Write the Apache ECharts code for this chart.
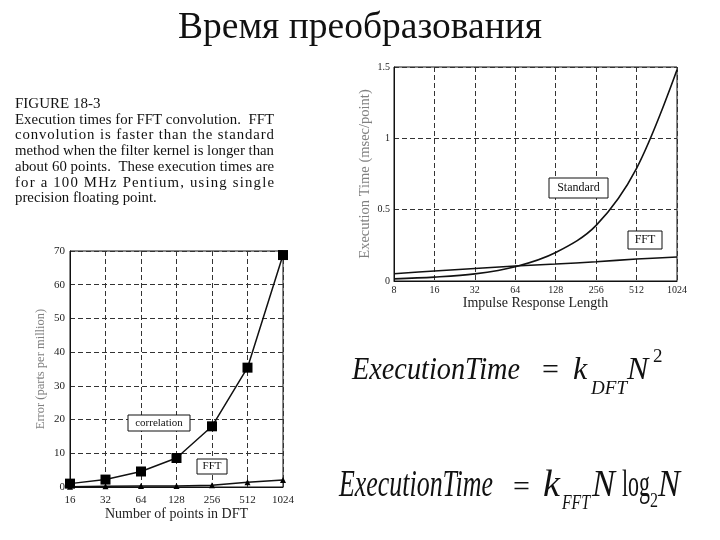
<!DOCTYPE html>
<html><head><meta charset="utf-8">
<script src="https://cdn.jsdelivr.net/npm/echarts@6/dist/echarts.min.js"></script>
<style>html,body{margin:0;padding:0;background:#fff}#c{width:720px;height:540px}</style>
</head><body><div id="c"></div>
<script>
// ---- data ----
const titleText = 'Время преобразования';
const captionLines = [
  'FIGURE 18-3',
  'Execution times for FFT convolution.  FFT',
  'convolution is faster than the standard',
  'method when the filter kernel is longer than',
  'about 60 points.  These execution times are',
  'for a 100 MHz Pentium, using single',
  'precision floating point.'
];
const kernelLengths = ['8','16','32','64','128','256','512','1024'];
const standardTime = [0.015, 0.027, 0.05, 0.1, 0.2, 0.39, 0.79, 1.48];
const fftTime = [0.051, 0.07, 0.088, 0.105, 0.119, 0.135, 0.154, 0.168];
const dftPoints = ['16','32','64','128','256','512','1024'];
const correlationErr = [1.0, 2.2, 4.6, 8.6, 18.0, 35.4, 68.8];
const fftErr = [0.1, 0.2, 0.3, 0.3, 0.5, 1.4, 2.1];

// ---- layout helpers ----
const SERIF = '"Liberation Serif","Times New Roman",serif';
const mctx = document.createElement('canvas').getContext('2d');
function measure(t, font){ mctx.font = font; return mctx.measureText(t).width; }
const graphics = [];
function txt(t, x, baseline, size, opts){
  opts = opts || {};
  const font = (opts.italic ? 'italic ' : '') + size + 'px ' + SERIF;
  let sx = opts.sx || 1;
  if (opts.w) sx = opts.w / measure(t, font);
  graphics.push({type:'text', z:100, x: x, y: baseline - 0.3*size, scaleX: sx,
    style:{text:t, font:font, fill: opts.fill || '#111', textAlign: opts.align || 'left', textVerticalAlign:'middle', verticalAlign:'middle'}});
}
function justify(line, x0, x1, baseline, size){
  const font = size + 'px ' + SERIF;
  const W = measure(line, font);
  const n = line.length;
  const gap = n > 1 ? (x1 - x0 - W) / (n - 1) : 0;
  for (let i = 0; i < n; i++) {
    if (line[i] === ' ') continue;
    graphics.push({type:'text', z:100, x: x0 + measure(line.slice(0, i), font) + i*gap, y: baseline - 0.3*size,
      style:{text: line[i], font: font, fill:'#111', textAlign:'left', textVerticalAlign:'middle', verticalAlign:'middle'}});
  }
}
function box(x, y, w, h, t, size){
  graphics.push({type:'group', z:100, x:x, y:y, children:[
    {type:'rect', z:100, shape:{x:0, y:0, width:w, height:h}, style:{fill:'#fff', stroke:'#111', lineWidth:1}},
    {type:'text', z:101, x:w/2, y:h/2, style:{text:t, font: size+'px '+SERIF, fill:'#111', textAlign:'center', textVerticalAlign:'middle', verticalAlign:'middle'}}
  ]});
}

// title
txt(titleText, 360, 39, 37.5, {align:'center'});
// caption
captionLines.forEach((l, i) => {
  const base = 108.5 + 15.75 * i;
  if (i === 0) txt(l, 15, base, 15);
  else if (i === captionLines.length - 1) txt(l, 15, base, 14.8);
  else justify(l, 15, 274, base, 14.8);
});
// formulas
txt('ExecutionTime', 352, 380, 32, {italic:true, w:168});
txt('=', 542, 380, 30);
txt('k', 573, 380, 32, {italic:true});
txt('DFT', 591, 395, 19, {italic:true, w:36});
txt('N', 627, 380, 32, {italic:true});
txt('2', 653, 363, 19);

txt('ExecutionTime', 339, 497, 37, {italic:true, w:154});
txt('=', 513, 497, 30);
txt('k', 543, 497, 37, {italic:true, w:17});
txt('FFT', 562, 510, 20, {italic:true, w:28});
txt('N', 592, 497, 37, {italic:true, w:23});
txt('log', 622, 497, 37, {w:28});
txt('2', 650, 508, 20, {w:8});
txt('N', 658, 497, 37, {italic:true, w:22});

// annotation boxes
box(549, 178, 59, 20, 'Standard', 12);
box(628, 231, 34, 18, 'FFT', 12);
box(128, 415, 62, 16, 'correlation', 11);
box(197, 459, 30, 15, 'FFT', 11);

const dash = {type:[5,3], color:'#333', width:1};
const labelStyle = (s) => ({fontFamily:SERIF, fontSize:s, color:'#222'});

const option = {
  backgroundColor:'#fff',
  animation:false,
  grid:[
    {left:394, top:67, width:283, height:214, show:true, borderColor:'#111', borderWidth:1, backgroundColor:'#fff'},
    {left:70, top:251, width:213, height:236, show:true, borderColor:'#111', borderWidth:1, backgroundColor:'#fff'}
  ],
  xAxis:[
    {gridIndex:0, type:'category', data:kernelLengths, boundaryGap:false,
     axisLine:{lineStyle:{color:'#111'}}, axisTick:{show:false},
     axisLabel:Object.assign({margin:4, interval:0}, labelStyle(10)),
     splitLine:{show:true, interval:0, lineStyle:dash},
     name:'Impulse Response Length', nameLocation:'middle', nameGap:13,
     nameTextStyle:labelStyle(14)},
    {gridIndex:1, type:'category', data:dftPoints, boundaryGap:false,
     axisLine:{lineStyle:{color:'#111'}}, axisTick:{show:false},
     axisLabel:Object.assign({margin:8, interval:0}, labelStyle(11)),
     splitLine:{show:true, interval:0, lineStyle:dash},
     name:'Number of points in DFT', nameLocation:'middle', nameGap:19,
     nameTextStyle:labelStyle(14)}
  ],
  yAxis:[
    {gridIndex:0, type:'value', min:0, max:1.5, interval:0.5,
     axisLine:{show:true, lineStyle:{color:'#111'}}, axisTick:{show:false},
     axisLabel:Object.assign({margin:4}, labelStyle(10)),
     splitLine:{show:true, lineStyle:dash},
     name:'Execution Time (msec/point)', nameLocation:'middle', nameGap:21,
     nameTextStyle:{fontFamily:SERIF, fontSize:14.5, color:'#808080'}},
    {gridIndex:1, type:'value', min:0, max:70, interval:10,
     axisLine:{show:true, lineStyle:{color:'#111'}}, axisTick:{show:false},
     axisLabel:Object.assign({margin:5}, labelStyle(11)),
     splitLine:{show:true, lineStyle:dash},
     name:'Error (parts per million)', nameLocation:'middle', nameGap:23,
     nameTextStyle:{fontFamily:SERIF, fontSize:12.5, color:'#808080'}}
  ],
  series:[
    {name:'Standard', type:'line', xAxisIndex:0, yAxisIndex:0, data:standardTime, smooth:0.35,
     symbol:'none', lineStyle:{color:'#111', width:1.6}},
    {name:'FFT', type:'line', xAxisIndex:0, yAxisIndex:0, data:fftTime, smooth:0.35,
     symbol:'none', lineStyle:{color:'#111', width:1.6}},
    {name:'correlation', type:'line', xAxisIndex:1, yAxisIndex:1, data:correlationErr,
     symbol:'rect', symbolSize:10, itemStyle:{color:'#000'}, lineStyle:{color:'#111', width:1.5}, clip:false},
    {name:'FFT error', type:'line', xAxisIndex:1, yAxisIndex:1, data:fftErr,
     symbol:'triangle', symbolSize:6, itemStyle:{color:'#000'}, lineStyle:{color:'#111', width:1.5}, clip:false}
  ],
  graphic: graphics
};
const chart = echarts.init(document.getElementById('c'), null, {renderer:'canvas'});
chart.setOption(option);
</script></body></html>
